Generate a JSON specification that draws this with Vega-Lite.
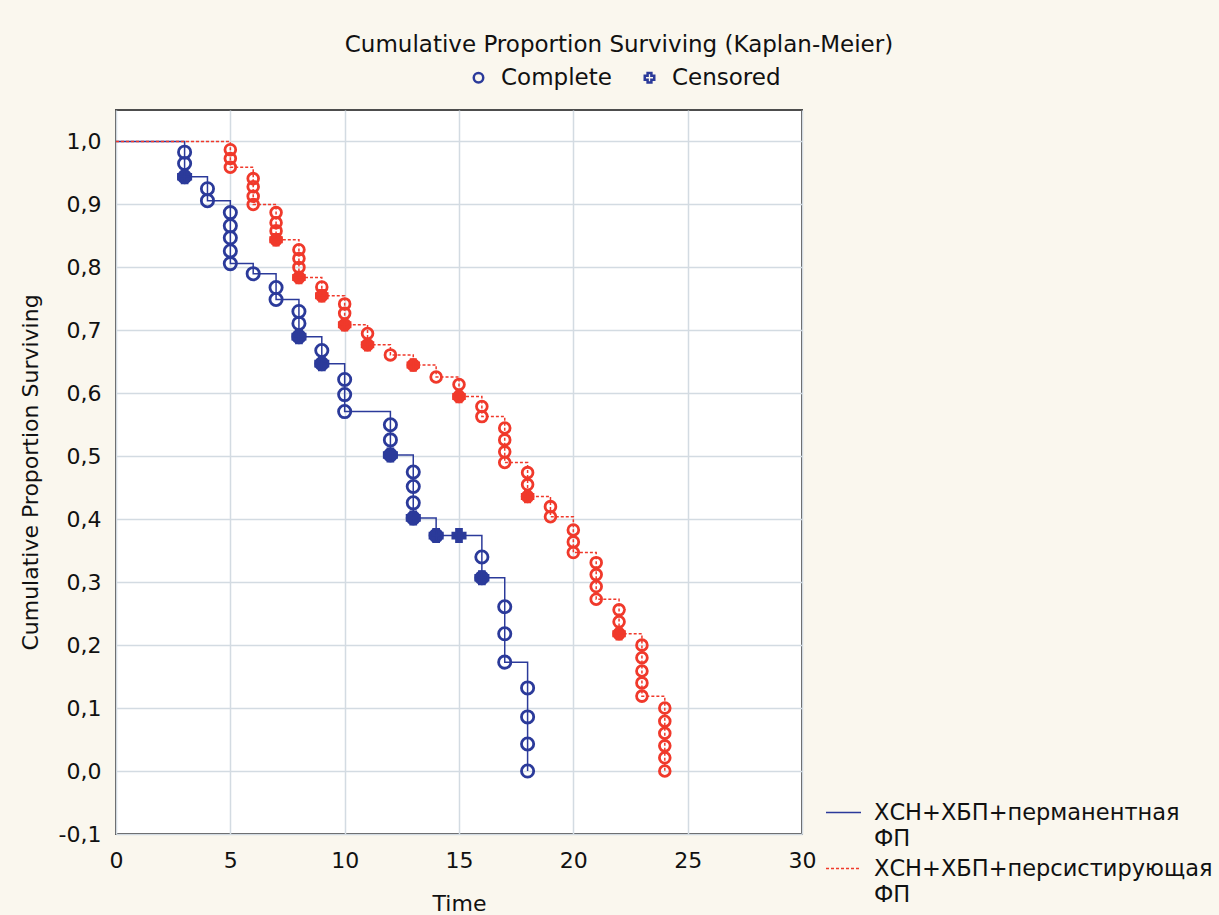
{
  "$schema": "https://vega.github.io/schema/vega-lite/v6.json",
  "width": 686,
  "height": 724,
  "autosize": {"type": "none"},
  "padding": {"left": 116, "top": 110, "right": 417, "bottom": 81},
  "background": "#faf7ee",
  "config": {
    "view": {"fill": "white", "stroke": "#4d4d4d", "strokeWidth": 2},
    "font": "DejaVu Sans",
    "axis": {"labelFont": "DejaVu Sans", "titleFont": "DejaVu Sans", "labelFontSize": 22, "titleFontSize": 22, "labelColor": "#111111", "titleColor": "#111111", "titleFontWeight": "normal", "gridColor": "#d3dbe2", "gridWidth": 1.5, "domain": false, "ticks": false},
    "legend": {"labelFont": "DejaVu Sans", "labelFontSize": 23, "labelColor": "#111111"}
  },
  "title": {"text": "Cumulative Proportion Surviving (Kaplan-Meier)", "fontSize": 23, "fontWeight": "normal", "font": "DejaVu Sans", "color": "#111111", "anchor": "middle", "frame": "group", "dx": 160, "offset": 9},
  "datasets": {
    "curves": [
      {"series": "perm", "time": 0, "surv": 1.0},
      {"series": "perm", "time": 3, "surv": 0.944},
      {"series": "perm", "time": 4, "surv": 0.906},
      {"series": "perm", "time": 5, "surv": 0.806},
      {"series": "perm", "time": 6, "surv": 0.790},
      {"series": "perm", "time": 7, "surv": 0.749},
      {"series": "perm", "time": 8, "surv": 0.690},
      {"series": "perm", "time": 9, "surv": 0.647},
      {"series": "perm", "time": 10, "surv": 0.571},
      {"series": "perm", "time": 12, "surv": 0.502},
      {"series": "perm", "time": 13, "surv": 0.402},
      {"series": "perm", "time": 14, "surv": 0.374},
      {"series": "perm", "time": 16, "surv": 0.307},
      {"series": "perm", "time": 17, "surv": 0.173},
      {"series": "perm", "time": 18, "surv": 0.0},
      {"series": "pers", "time": 0, "surv": 1.0},
      {"series": "pers", "time": 5, "surv": 0.959},
      {"series": "pers", "time": 6, "surv": 0.900},
      {"series": "pers", "time": 7, "surv": 0.844},
      {"series": "pers", "time": 8, "surv": 0.784},
      {"series": "pers", "time": 9, "surv": 0.755},
      {"series": "pers", "time": 10, "surv": 0.709},
      {"series": "pers", "time": 11, "surv": 0.677},
      {"series": "pers", "time": 12, "surv": 0.661},
      {"series": "pers", "time": 13, "surv": 0.645},
      {"series": "pers", "time": 14, "surv": 0.626},
      {"series": "pers", "time": 15, "surv": 0.595},
      {"series": "pers", "time": 16, "surv": 0.563},
      {"series": "pers", "time": 17, "surv": 0.490},
      {"series": "pers", "time": 18, "surv": 0.436},
      {"series": "pers", "time": 19, "surv": 0.404},
      {"series": "pers", "time": 20, "surv": 0.347},
      {"series": "pers", "time": 21, "surv": 0.273},
      {"series": "pers", "time": 22, "surv": 0.218},
      {"series": "pers", "time": 23, "surv": 0.119},
      {"series": "pers", "time": 24, "surv": 0.0}
    ],
    "events": [
      {"series": "perm", "type": "Complete", "time": 3, "surv": 0.983},
      {"series": "perm", "type": "Complete", "time": 3, "surv": 0.965},
      {"series": "perm", "type": "Complete", "time": 3, "surv": 0.944},
      {"series": "perm", "type": "Complete", "time": 4, "surv": 0.925},
      {"series": "perm", "type": "Complete", "time": 4, "surv": 0.906},
      {"series": "perm", "type": "Complete", "time": 5, "surv": 0.887},
      {"series": "perm", "type": "Complete", "time": 5, "surv": 0.866},
      {"series": "perm", "type": "Complete", "time": 5, "surv": 0.847},
      {"series": "perm", "type": "Complete", "time": 5, "surv": 0.826},
      {"series": "perm", "type": "Complete", "time": 5, "surv": 0.806},
      {"series": "perm", "type": "Complete", "time": 6, "surv": 0.790},
      {"series": "perm", "type": "Complete", "time": 7, "surv": 0.768},
      {"series": "perm", "type": "Complete", "time": 7, "surv": 0.749},
      {"series": "perm", "type": "Complete", "time": 8, "surv": 0.730},
      {"series": "perm", "type": "Complete", "time": 8, "surv": 0.711},
      {"series": "perm", "type": "Complete", "time": 8, "surv": 0.690},
      {"series": "perm", "type": "Complete", "time": 9, "surv": 0.668},
      {"series": "perm", "type": "Complete", "time": 9, "surv": 0.647},
      {"series": "perm", "type": "Complete", "time": 10, "surv": 0.622},
      {"series": "perm", "type": "Complete", "time": 10, "surv": 0.598},
      {"series": "perm", "type": "Complete", "time": 10, "surv": 0.571},
      {"series": "perm", "type": "Complete", "time": 12, "surv": 0.550},
      {"series": "perm", "type": "Complete", "time": 12, "surv": 0.526},
      {"series": "perm", "type": "Complete", "time": 12, "surv": 0.502},
      {"series": "perm", "type": "Complete", "time": 13, "surv": 0.475},
      {"series": "perm", "type": "Complete", "time": 13, "surv": 0.452},
      {"series": "perm", "type": "Complete", "time": 13, "surv": 0.426},
      {"series": "perm", "type": "Complete", "time": 13, "surv": 0.402},
      {"series": "perm", "type": "Complete", "time": 14, "surv": 0.374},
      {"series": "perm", "type": "Complete", "time": 16, "surv": 0.340},
      {"series": "perm", "type": "Complete", "time": 16, "surv": 0.307},
      {"series": "perm", "type": "Complete", "time": 17, "surv": 0.261},
      {"series": "perm", "type": "Complete", "time": 17, "surv": 0.218},
      {"series": "perm", "type": "Complete", "time": 17, "surv": 0.173},
      {"series": "perm", "type": "Complete", "time": 18, "surv": 0.132},
      {"series": "perm", "type": "Complete", "time": 18, "surv": 0.086},
      {"series": "perm", "type": "Complete", "time": 18, "surv": 0.043},
      {"series": "perm", "type": "Complete", "time": 18, "surv": 0.0},
      {"series": "perm", "type": "Censored", "time": 3, "surv": 0.944},
      {"series": "perm", "type": "Censored", "time": 8, "surv": 0.690},
      {"series": "perm", "type": "Censored", "time": 9, "surv": 0.647},
      {"series": "perm", "type": "Censored", "time": 12, "surv": 0.502},
      {"series": "perm", "type": "Censored", "time": 13, "surv": 0.402},
      {"series": "perm", "type": "Censored", "time": 14, "surv": 0.374},
      {"series": "perm", "type": "Censored", "time": 15, "surv": 0.374},
      {"series": "perm", "type": "Censored", "time": 16, "surv": 0.307},
      {"series": "pers", "type": "Complete", "time": 5, "surv": 0.987},
      {"series": "pers", "type": "Complete", "time": 5, "surv": 0.973},
      {"series": "pers", "type": "Complete", "time": 5, "surv": 0.959},
      {"series": "pers", "type": "Complete", "time": 6, "surv": 0.941},
      {"series": "pers", "type": "Complete", "time": 6, "surv": 0.928},
      {"series": "pers", "type": "Complete", "time": 6, "surv": 0.913},
      {"series": "pers", "type": "Complete", "time": 6, "surv": 0.900},
      {"series": "pers", "type": "Complete", "time": 7, "surv": 0.887},
      {"series": "pers", "type": "Complete", "time": 7, "surv": 0.871},
      {"series": "pers", "type": "Complete", "time": 7, "surv": 0.858},
      {"series": "pers", "type": "Complete", "time": 7, "surv": 0.844},
      {"series": "pers", "type": "Complete", "time": 8, "surv": 0.828},
      {"series": "pers", "type": "Complete", "time": 8, "surv": 0.814},
      {"series": "pers", "type": "Complete", "time": 8, "surv": 0.800},
      {"series": "pers", "type": "Complete", "time": 8, "surv": 0.784},
      {"series": "pers", "type": "Complete", "time": 9, "surv": 0.769},
      {"series": "pers", "type": "Complete", "time": 9, "surv": 0.755},
      {"series": "pers", "type": "Complete", "time": 10, "surv": 0.742},
      {"series": "pers", "type": "Complete", "time": 10, "surv": 0.727},
      {"series": "pers", "type": "Complete", "time": 10, "surv": 0.709},
      {"series": "pers", "type": "Complete", "time": 11, "surv": 0.695},
      {"series": "pers", "type": "Complete", "time": 11, "surv": 0.677},
      {"series": "pers", "type": "Complete", "time": 12, "surv": 0.661},
      {"series": "pers", "type": "Complete", "time": 13, "surv": 0.645},
      {"series": "pers", "type": "Complete", "time": 14, "surv": 0.626},
      {"series": "pers", "type": "Complete", "time": 15, "surv": 0.614},
      {"series": "pers", "type": "Complete", "time": 15, "surv": 0.595},
      {"series": "pers", "type": "Complete", "time": 16, "surv": 0.579},
      {"series": "pers", "type": "Complete", "time": 16, "surv": 0.563},
      {"series": "pers", "type": "Complete", "time": 17, "surv": 0.545},
      {"series": "pers", "type": "Complete", "time": 17, "surv": 0.526},
      {"series": "pers", "type": "Complete", "time": 17, "surv": 0.507},
      {"series": "pers", "type": "Complete", "time": 17, "surv": 0.490},
      {"series": "pers", "type": "Complete", "time": 18, "surv": 0.474},
      {"series": "pers", "type": "Complete", "time": 18, "surv": 0.455},
      {"series": "pers", "type": "Complete", "time": 18, "surv": 0.436},
      {"series": "pers", "type": "Complete", "time": 19, "surv": 0.420},
      {"series": "pers", "type": "Complete", "time": 19, "surv": 0.404},
      {"series": "pers", "type": "Complete", "time": 20, "surv": 0.383},
      {"series": "pers", "type": "Complete", "time": 20, "surv": 0.364},
      {"series": "pers", "type": "Complete", "time": 20, "surv": 0.347},
      {"series": "pers", "type": "Complete", "time": 21, "surv": 0.331},
      {"series": "pers", "type": "Complete", "time": 21, "surv": 0.312},
      {"series": "pers", "type": "Complete", "time": 21, "surv": 0.293},
      {"series": "pers", "type": "Complete", "time": 21, "surv": 0.273},
      {"series": "pers", "type": "Complete", "time": 22, "surv": 0.256},
      {"series": "pers", "type": "Complete", "time": 22, "surv": 0.237},
      {"series": "pers", "type": "Complete", "time": 22, "surv": 0.218},
      {"series": "pers", "type": "Complete", "time": 23, "surv": 0.200},
      {"series": "pers", "type": "Complete", "time": 23, "surv": 0.180},
      {"series": "pers", "type": "Complete", "time": 23, "surv": 0.159},
      {"series": "pers", "type": "Complete", "time": 23, "surv": 0.140},
      {"series": "pers", "type": "Complete", "time": 23, "surv": 0.119},
      {"series": "pers", "type": "Complete", "time": 24, "surv": 0.100},
      {"series": "pers", "type": "Complete", "time": 24, "surv": 0.079},
      {"series": "pers", "type": "Complete", "time": 24, "surv": 0.060},
      {"series": "pers", "type": "Complete", "time": 24, "surv": 0.040},
      {"series": "pers", "type": "Complete", "time": 24, "surv": 0.021},
      {"series": "pers", "type": "Complete", "time": 24, "surv": 0.0},
      {"series": "pers", "type": "Censored", "time": 7, "surv": 0.844},
      {"series": "pers", "type": "Censored", "time": 8, "surv": 0.784},
      {"series": "pers", "type": "Censored", "time": 9, "surv": 0.755},
      {"series": "pers", "type": "Censored", "time": 10, "surv": 0.709},
      {"series": "pers", "type": "Censored", "time": 11, "surv": 0.677},
      {"series": "pers", "type": "Censored", "time": 13, "surv": 0.645},
      {"series": "pers", "type": "Censored", "time": 15, "surv": 0.595},
      {"series": "pers", "type": "Censored", "time": 18, "surv": 0.436},
      {"series": "pers", "type": "Censored", "time": 22, "surv": 0.218}
    ]
  },
  "encoding": {
    "x": {"field": "time", "type": "quantitative", "scale": {"domain": [0, 30], "nice": false, "zero": false},
          "axis": {"values": [0, 5, 10, 15, 20, 25, 30], "title": "Time", "labelPadding": 16, "titlePadding": 22, "labelFlush": false}},
    "y": {"field": "surv", "type": "quantitative", "scale": {"domain": [-0.1, 1.05], "nice": false, "zero": false},
          "axis": {"values": [-0.1, 0, 0.1, 0.2, 0.3, 0.4, 0.5, 0.6, 0.7, 0.8, 0.9, 1.0], "title": "Cumulative Proportion Surviving", "labelPadding": 15, "titlePadding": 16,
                   "labelExpr": "replace(replace(format(datum.value, '.1f'), '.', ','), '\u2212', '-')"}}
  },
  "layer": [
    {
      "data": {"name": "curves"},
      "mark": {"type": "line", "interpolate": "step-after", "strokeWidth": 1.5},
      "encoding": {
        "color": {"field": "series", "type": "nominal",
                  "scale": {"domain": ["perm", "pers"], "range": ["#2b3a9a", "#f0392b"]},
                  "legend": {"title": null, "orient": "none", "legendX": 709, "legendY": 684, "symbolType": "stroke", "symbolSize": 1225, "symbolStrokeWidth": 1.5, "labelOffset": 12, "rowPadding": -4, "labelLimit": 400, "labelFontSize": 22.5,
                             "labelExpr": "datum.label == 'perm' ? ['ХСН+ХБП+перманентная', 'ФП'] : ['ХСН+ХБП+персистирующая', 'ФП']",
                             "encode": {"labels": {"update": {"lineHeight": {"value": 26}}}}}},
        "strokeDash": {"field": "series", "type": "nominal",
                       "scale": {"domain": ["perm", "pers"], "range": [[1, 0], [3, 2]]},
                       "legend": {"title": null, "orient": "none", "legendX": 709, "legendY": 684, "symbolType": "stroke", "symbolSize": 1225, "symbolStrokeWidth": 1.5, "labelOffset": 12, "rowPadding": -4, "labelLimit": 400, "labelFontSize": 22.5,
                             "labelExpr": "datum.label == 'perm' ? ['ХСН+ХБП+перманентная', 'ФП'] : ['ХСН+ХБП+персистирующая', 'ФП']",
                             "encode": {"labels": {"update": {"lineHeight": {"value": 26}}}}}}
      }
    },
    {
      "data": {"name": "events"},
      "mark": {"type": "point", "strokeWidth": 2.8, "opacity": 1},
      "encoding": {
        "shape": {"field": "type", "type": "nominal",
                  "scale": {"domain": ["Complete", "Censored"], "range": ["circle", "cross"]},
                  "legend": {"title": null, "orient": "none", "legendX": 351, "legendY": -44, "direction": "horizontal", "symbolStrokeColor": "#2b3a9a", "symbolSize": 90, "symbolStrokeWidth": 2.5, "labelOffset": 11, "columnPadding": 26,
                             "encode": {"symbols": {"update": {"fill": {"signal": "datum.value === 'Censored' ? '#2b3a9a' : 'transparent'"}, "stroke": {"value": "#2b3a9a"}}}}}},
        "stroke": {"field": "series", "type": "nominal",
                   "scale": {"domain": ["perm", "pers"], "range": ["#2b3a9a", "#f0392b"]}, "legend": null},
        "fill": {"condition": {"test": "datum.type === 'Censored'", "field": "series", "type": "nominal",
                               "scale": {"domain": ["perm", "pers"], "range": ["#2b3a9a", "#f0392b"]}, "legend": null},
                 "value": "transparent"},
        "size": {"condition": {"test": "datum.series === 'perm'", "value": 150}, "value": 115}
      }
    }
  ]
}
